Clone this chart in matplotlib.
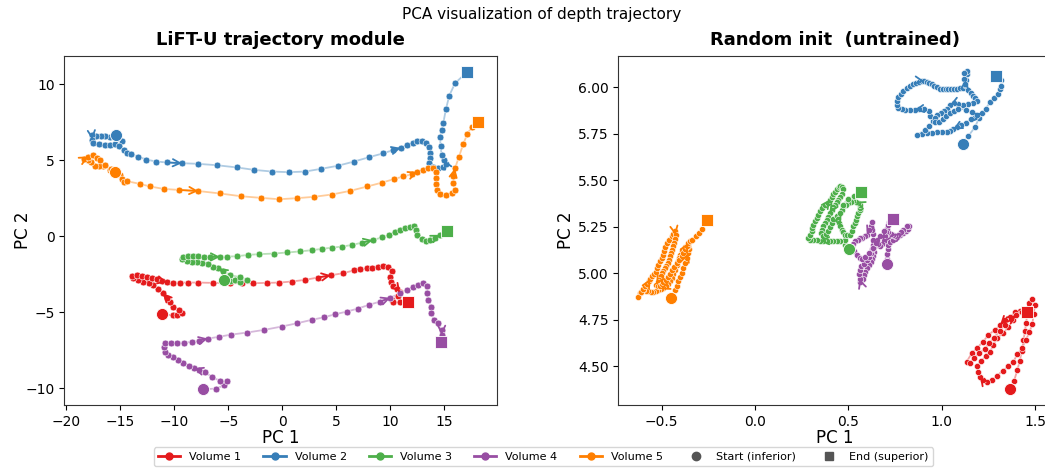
import matplotlib
matplotlib.use("Agg")
import matplotlib.pyplot as plt
import matplotlib.ticker as mticker
from matplotlib.lines import Line2D
import numpy as np

# ---------------- data: LiFT-U trajectory module (left panel) ----------------
lift_v1_x = [-11.17, -10.15, -9.72, -9.32, -9.54, -10.1, -10.4, -10.7, -11.08, -11.5, -11.94, -12.4, -12.87,
             -13.33, -13.8, -13.95, -13.5, -13.0, -12.56, -12.1, -11.64, -11.17, -10.7, -10.1, -9.48, -8.7,
             -7.78, -6.39, -4.85, -3.77, -2.69, -1.45, -0.28, 0.86, 2.1, 3.27, 4.48, 5.65, 6.6, 7.2, 7.8,
             8.33, 8.83, 9.35, 9.81, 10.12, 9.97, 10.03, 10.28, 10.65, 10.9, 10.7, 10.12, 10.28, 10.9, 11.67]
lift_v1_y = [-5.13, -5.2, -5.2, -5.07, -4.85, -4.63, -4.34, -4.04, -3.75, -3.45, -3.2, -3.09, -2.98,
             -2.87, -2.72, -2.59, -2.54, -2.6, -2.65, -2.72, -2.8, -2.94, -3.03, -3.05, -3.05, -3.05,
             -3.05, -3.07, -3.09, -3.09, -3.09, -3.07, -3.05, -2.98, -2.87, -2.72, -2.57, -2.43, -2.25, -2.17, -2.1,
             -2.06, -2.0, -1.93, -2.0, -2.28, -2.65, -2.98, -3.27, -3.46, -3.7, -3.95, -4.19, -4.34, -4.34, -4.3]

lift_v2_x = [-15.4, -14.9, -15.3, -15.96, -16.4, -16.8, -17.25, -17.65, -17.6, -17.5, -16.94, -16.4, -15.96,
             -15.5, -15.1, -14.7, -14.4, -14.04, -13.4, -12.6, -11.7, -10.7, -9.3, -7.84, -6.1, -4.2, -2.6,
             -0.93, 0.59, 2.1, 3.58, 5.12, 6.64, 8.06, 9.29, 10.2, 10.96, 11.57, 12.07, 12.5, 12.9, 13.3,
             13.55, 13.67, 13.67, 13.6, 13.98, 14.4, 14.9, 15.15, 14.96, 14.75, 14.66, 14.6, 14.75, 14.9,
             15.15, 15.46, 16.0, 17.07]
lift_v2_y = [6.67, 6.25, 6.45, 6.51, 6.56, 6.6, 6.56, 6.67, 6.35, 6.12, 6.07, 6.0, 5.99,
             6.07, 5.9, 5.68, 5.5, 5.39, 5.24, 5.04, 4.91, 4.85, 4.8, 4.76, 4.67, 4.52, 4.36,
             4.25, 4.21, 4.25, 4.43, 4.63, 4.91, 5.2, 5.44, 5.65, 5.81, 5.99, 6.12, 6.23, 6.23, 6.12,
             5.86, 5.5, 5.13, 4.8, 4.54, 4.47, 4.58, 4.76, 5.02, 5.35, 5.9, 6.51, 7.0, 7.43,
             8.36, 9.25, 10.07, 10.77]

lift_v3_x = [-5.4, -4.85, -4.4, -3.9, -3.3, -3.95, -4.85, -5.46, -5.93, -6.4, -6.85, -7.4, -7.87, -8.4,
             -8.86, -9.3, -9.17, -8.7, -8.24, -7.78, -7.25, -6.7, -5.77, -5.1, -4.23, -3.2, -2.13, -0.77,
             0.46, 1.64, 2.72, 3.7, 4.63, 5.56, 6.48, 7.4, 8.36, 9.26, 9.9, 10.43, 10.9, 11.36, 11.8, 12.2,
             12.4, 12.5, 12.9, 13.3, 13.67, 14.1, 14.6, 15.28]
lift_v3_y = [-2.87, -2.95, -2.9, -2.98, -2.85, -2.7, -2.55, -2.32, -2.1, -2.0, -1.84, -1.73, -1.71, -1.67,
             -1.62, -1.5, -1.34, -1.32, -1.32, -1.32, -1.34, -1.36, -1.36, -1.34, -1.32, -1.23, -1.18, -1.14,
             -1.07, -1.0, -0.92, -0.83, -0.75, -0.68, -0.57, -0.42, -0.26, -0.07, 0.1, 0.26, 0.42, 0.53, 0.61, 0.64,
             0.42, 0.09, -0.18, -0.31, -0.24, -0.09, 0.09, 0.31]

lift_v4_x = [-7.38, -6.14, -5.4, -5.09, -5.77, -6.54, -7.16, -7.69, -8.18, -8.64, -9.17, -9.63, -10.1,
             -10.56, -10.86, -10.96, -10.86, -10.3, -9.72, -9.07, -8.4, -7.7, -6.9, -5.9, -4.75, -3.3, -1.7,
             -0.06, 1.39, 2.72, 3.86, 4.9, 5.96, 6.98, 8.0, 9.04, 10.0, 10.9, 11.5, 12.07, 12.6, 13.06,
             13.36, 13.36, 13.5, 13.8, 13.8, 14.04, 14.44, 14.75, 14.75, 14.7]
lift_v4_y = [-10.07, -10.02, -9.8, -9.52, -9.5, -9.28, -8.9, -8.8, -8.68, -8.51, -8.31, -8.14, -7.96,
             -7.81, -7.59, -7.26, -7.0, -7.0, -7.0, -7.0, -6.95, -6.86, -6.73, -6.62, -6.47, -6.34, -6.16,
             -5.94, -5.72, -5.5, -5.33, -5.13, -4.96, -4.76, -4.52, -4.3, -4.05, -3.75, -3.53, -3.36, -3.2, -3.09,
             -3.27, -3.75, -4.19, -4.63, -5.07, -5.5, -5.72, -6.16, -6.49, -6.93]

lift_v5_x = [-15.5, -16.0, -16.6, -16.94, -17.35, -17.7, -18.0, -18.4, -17.96, -17.5, -17.2, -16.9, -16.4,
             -15.9, -15.0, -14.9, -14.7, -14.4, -13.2, -12.25, -11.0, -9.53, -7.78, -5.77, -3.86, -1.98,
             -0.31, 1.33, 2.93, 4.57, 6.27, 7.87, 9.26, 10.3, 11.2, 11.98, 12.5, 13.06, 13.5, 13.92, 14.2,
             14.23, 14.23, 14.3, 14.6, 15.15, 15.68, 15.99, 15.83, 15.83, 15.99, 16.36, 16.76, 17.13, 17.53, 18.09]
lift_v5_y = [4.2, 4.36, 4.63, 4.63, 4.63, 4.85, 5.0, 5.07, 5.24, 5.35, 5.13, 4.98, 4.7,
             4.45, 4.0, 3.75, 3.55, 3.62, 3.44, 3.27, 3.11, 3.04, 2.97, 2.81, 2.63, 2.52,
             2.43, 2.5, 2.59, 2.74, 2.98, 3.27, 3.53, 3.75, 3.93, 4.08, 4.23, 4.36, 4.47, 4.47, 4.19,
             3.82, 3.44, 3.05, 2.76, 2.74, 2.83, 3.05, 3.49, 3.93, 4.47, 5.24, 6.07, 6.73, 7.17, 7.54]

# ---------------- data: Random init (untrained) (right panel) ----------------
rand_v1_x = [1.366, 1.388, 1.405, 1.418, 1.43, 1.438, 1.446, 1.452, 1.46, 1.468, 1.485, 1.5, 1.492, 1.486,
             1.47, 1.45, 1.43, 1.405, 1.384, 1.357, 1.327, 1.295, 1.268, 1.241, 1.22, 1.205, 1.196, 1.19,
             1.21, 1.235, 1.26, 1.277, 1.295, 1.33, 1.357, 1.384, 1.402, 1.42, 1.393, 1.366, 1.339, 1.3125,
             1.286, 1.25, 1.223, 1.1875, 1.161, 1.134, 1.15, 1.175, 1.2, 1.23, 1.255, 1.28, 1.31, 1.34,
             1.37, 1.40, 1.43, 1.459]
rand_v1_y = [4.377, 4.424, 4.48, 4.53, 4.585, 4.64, 4.69, 4.735, 4.79, 4.84, 4.86, 4.83, 4.78, 4.73,
             4.685, 4.64, 4.6, 4.565, 4.526, 4.5, 4.478, 4.449, 4.427, 4.418, 4.425, 4.445, 4.472, 4.505,
             4.53, 4.555, 4.58, 4.616, 4.652, 4.679, 4.714, 4.75, 4.787, 4.8, 4.79, 4.768, 4.75, 4.723,
             4.697, 4.67, 4.634, 4.598, 4.571, 4.526, 4.52, 4.545, 4.57, 4.595, 4.625, 4.655, 4.69, 4.725,
             4.755, 4.775, 4.79, 4.792]

rand_v2_x = [1.112, 1.143, 1.179, 1.2, 1.18, 1.155, 1.128, 1.103, 1.082, 1.062, 1.045, 1.027, 1.0, 0.973,
             0.946, 0.92, 0.893, 0.87, 0.91, 0.93, 0.955, 0.94, 0.93, 0.905, 0.88, 0.855, 0.83, 0.805,
             0.786, 0.768, 0.759, 0.759, 0.768, 0.78, 0.795, 0.812, 0.83, 0.846, 0.862, 0.878, 0.893,
             0.907, 0.92, 0.933, 0.946, 0.96, 0.973, 0.99, 1.009, 1.023, 1.036, 1.051, 1.066, 1.082,
             1.098, 1.112, 1.125, 1.128, 1.137, 1.135, 1.12, 1.118, 1.125, 1.14, 1.155, 1.17, 1.18, 1.188,
             1.17, 1.14, 1.115, 1.09, 1.066, 1.045, 1.03, 1.015, 0.995, 0.975, 0.962, 0.965, 0.985, 1.005,
             1.025, 1.045, 1.065, 1.09, 1.13, 1.16, 1.19, 1.215, 1.235, 1.26, 1.28, 1.3, 1.312, 1.318,
             1.316, 1.292]
rand_v2_y = [5.697, 5.738, 5.787, 5.835, 5.84, 5.828, 5.81, 5.796, 5.785, 5.774, 5.765, 5.761, 5.761, 5.76,
             5.757, 5.753, 5.747, 5.745, 5.77, 5.79, 5.82, 5.846, 5.87, 5.882, 5.882, 5.878, 5.876, 5.878,
             5.882, 5.89, 5.905, 5.927, 5.948, 5.965, 5.98, 5.995, 6.008, 6.018, 6.025, 6.03, 6.034,
             6.032, 6.03, 6.024, 6.016, 6.008, 5.999, 5.993, 5.99, 5.99, 5.99, 5.99, 5.99, 5.992,
             5.995, 5.998, 6.01, 6.04, 6.07, 6.085, 6.075, 6.045, 6.02, 5.985, 5.97, 5.954, 5.94, 5.927,
             5.915, 5.91, 5.905, 5.91, 5.915, 5.905, 5.885, 5.87, 5.86, 5.85, 5.835, 5.815, 5.815, 5.83,
             5.845, 5.86, 5.875, 5.885, 5.88, 5.865, 5.85, 5.86, 5.885, 5.92, 5.945, 5.965, 5.99, 6.008,
             6.04, 6.06]

rand_v3_x = [0.505, 0.482, 0.482, 0.455, 0.437, 0.42, 0.402, 0.384, 0.366, 0.348, 0.33, 0.312, 0.295,
             0.286, 0.295, 0.304, 0.308, 0.313, 0.322, 0.33, 0.34, 0.348, 0.36, 0.375, 0.39, 0.402, 0.412,
             0.42, 0.43, 0.438, 0.448, 0.455, 0.465, 0.469, 0.464, 0.455, 0.446, 0.438, 0.429, 0.42, 0.411,
             0.4, 0.39, 0.384, 0.375, 0.366, 0.36, 0.355, 0.365, 0.38, 0.39, 0.4, 0.41, 0.42, 0.437, 0.445,
             0.451, 0.458, 0.464, 0.472, 0.482, 0.495, 0.509, 0.518, 0.527, 0.534, 0.541, 0.548, 0.554,
             0.56, 0.563, 0.562, 0.554, 0.54, 0.527, 0.513, 0.5, 0.486, 0.473, 0.465, 0.455, 0.47, 0.5,
             0.53, 0.55, 0.566]
rand_v3_y = [5.131, 5.155, 5.181, 5.172, 5.176, 5.176, 5.176, 5.176, 5.176, 5.176, 5.178, 5.18, 5.181,
             5.19, 5.208, 5.226, 5.245, 5.262, 5.28, 5.298, 5.316, 5.334, 5.35, 5.365, 5.38, 5.397, 5.41,
             5.424, 5.438, 5.451, 5.463, 5.469, 5.462, 5.451, 5.424, 5.41, 5.397, 5.383, 5.37, 5.356, 5.343,
             5.325, 5.305, 5.289, 5.27, 5.253, 5.235, 5.215, 5.2, 5.21, 5.23, 5.25, 5.27, 5.29, 5.307, 5.29,
             5.271, 5.253, 5.235, 5.22, 5.208, 5.205, 5.208, 5.23, 5.253, 5.27, 5.289, 5.307, 5.325,
             5.34, 5.352, 5.368, 5.379, 5.385, 5.388, 5.385, 5.379, 5.37, 5.361, 5.343, 5.325, 5.37, 5.4,
             5.415, 5.43, 5.438]

rand_v4_x = [0.705, 0.705, 0.707, 0.71, 0.712, 0.725, 0.741, 0.759, 0.775, 0.792, 0.807, 0.82, 0.825,
             0.812, 0.795, 0.78, 0.768, 0.752, 0.741, 0.727, 0.714, 0.705, 0.7, 0.696, 0.69, 0.68, 0.67,
             0.66, 0.652, 0.645, 0.64, 0.636, 0.634, 0.628, 0.62, 0.61, 0.6, 0.59, 0.585, 0.578, 0.565,
             0.56, 0.558, 0.56, 0.57, 0.585, 0.6, 0.61, 0.62, 0.625, 0.63, 0.634, 0.63, 0.625, 0.624, 0.625,
             0.612, 0.6, 0.589, 0.575, 0.563, 0.55, 0.536, 0.525, 0.518, 0.53, 0.545, 0.56, 0.575, 0.59,
             0.61, 0.63, 0.65, 0.67, 0.69, 0.71, 0.72, 0.737]
rand_v4_y = [5.052, 5.08, 5.105, 5.13, 5.155, 5.17, 5.18, 5.195, 5.205, 5.215, 5.228, 5.24, 5.255,
             5.255, 5.235, 5.222, 5.205, 5.203, 5.208, 5.213, 5.225, 5.24, 5.225, 5.2, 5.175, 5.16, 5.145,
             5.16, 5.18, 5.16, 5.14, 5.115, 5.095, 5.075, 5.06, 5.045, 5.03, 5.01, 4.99, 4.97, 4.955,
             4.97, 4.995, 5.02, 5.038, 5.05, 5.07, 5.09, 5.11, 5.13, 5.155, 5.181, 5.21, 5.235, 5.255, 5.275,
             5.235, 5.205, 5.199, 5.19, 5.19, 5.18, 5.172, 5.16, 5.14, 5.12, 5.1, 5.085, 5.08, 5.09,
             5.11, 5.135, 5.165, 5.2, 5.23, 5.26, 5.275, 5.293]

rand_v5_x = [-0.45, -0.429, -0.42, -0.411, -0.402, -0.393, -0.386, -0.375, -0.366, -0.357, -0.355, -0.361,
             -0.375, -0.39, -0.402, -0.407, -0.411, -0.42, -0.43, -0.438, -0.446, -0.455, -0.464, -0.478,
             -0.491, -0.505, -0.518, -0.532, -0.545, -0.558, -0.571, -0.585, -0.598, -0.608, -0.616, -0.625,
             -0.61, -0.598, -0.589, -0.578, -0.568, -0.561, -0.554, -0.543, -0.532, -0.525, -0.518, -0.509,
             -0.5, -0.493, -0.486, -0.48, -0.473, -0.46, -0.446, -0.437, -0.429, -0.425, -0.428, -0.432,
             -0.438, -0.444, -0.45, -0.456, -0.462, -0.468, -0.476, -0.484, -0.49, -0.497, -0.505, -0.514,
             -0.522, -0.53, -0.52, -0.51, -0.5, -0.49, -0.478, -0.466, -0.455, -0.443, -0.432, -0.42,
             -0.407, -0.393, -0.384, -0.375, -0.366, -0.357, -0.348, -0.339, -0.318, -0.3, -0.282, -0.259]
rand_v5_y = [4.867, 4.912, 4.935, 4.957, 4.98, 5.002, 5.03, 5.056, 5.083, 5.11, 5.13, 5.149,
             5.14, 5.12, 5.1, 5.083, 5.065, 5.045, 5.02, 4.998, 4.975, 4.958, 4.944, 4.932,
             4.921, 4.915, 4.912, 4.905, 4.898, 4.9, 4.903, 4.908, 4.912, 4.902, 4.894, 4.872,
             4.9, 4.918, 4.934, 4.945, 4.957, 4.97, 4.984, 4.997, 5.01, 5.028, 5.047, 5.065,
             5.083, 5.1, 5.119, 5.14, 5.163, 5.182, 5.2, 5.213, 5.226, 5.205, 5.185, 5.163,
             5.145, 5.128, 5.11, 5.092, 5.074, 5.056, 5.042, 5.029, 5.015, 5.002, 4.984, 4.966,
             4.952, 4.939, 4.93, 4.935, 4.943, 4.953, 4.966, 4.981, 4.998, 5.016, 5.034, 5.054,
             5.074, 5.092, 5.11, 5.131, 5.147, 5.163, 5.172, 5.181, 5.2, 5.217, 5.239, 5.286]

volume_labels = ["Volume 1", "Volume 2", "Volume 3", "Volume 4", "Volume 5"]
volume_colors = ["#e41a1c", "#377eb8", "#4daf4a", "#984ea3", "#ff7f00"]
start_label = "Start (inferior)"
end_label = "End (superior)"
left_title = "LiFT-U trajectory module"
right_title = "Random init  (untrained)"
suptitle = "PCA visualization of depth trajectory"

left_series = [(lift_v1_x, lift_v1_y), (lift_v2_x, lift_v2_y), (lift_v3_x, lift_v3_y),
               (lift_v4_x, lift_v4_y), (lift_v5_x, lift_v5_y)]
right_series = [(rand_v1_x, rand_v1_y), (rand_v2_x, rand_v2_y), (rand_v3_x, rand_v3_y),
                (rand_v4_x, rand_v4_y), (rand_v5_x, rand_v5_y)]

W, H = 1045, 468
fig = plt.figure(figsize=(W / 100, H / 100), dpi=100)
axL = fig.add_axes([64.3 / W, 1 - 405 / H, (496.7 - 64.3) / W, (405 - 56) / H])
axR = fig.add_axes([618.3 / W, 1 - 405 / H, (1052 - 618.3) / W, (405 - 56) / H])


def draw(ax, series, step, s_pt):
    for (xs, ys), c in zip(series, volume_colors):
        xs = np.asarray(xs)
        ys = np.asarray(ys)
        ax.plot(xs, ys, color=c, lw=1.3, alpha=0.4, zorder=1)
        ax.scatter(xs[1:-1], ys[1:-1], s=s_pt, color=c, edgecolor="white", linewidth=0.4, zorder=3)
        for i in range(step // 2, len(xs) - 1, step):
            ax.annotate("", xy=(xs[i + 1], ys[i + 1]), xytext=(xs[i], ys[i]),
                        arrowprops=dict(arrowstyle="->", color=c, lw=1.3, shrinkA=0, shrinkB=0,
                                        mutation_scale=13), zorder=4)
        ax.scatter(xs[0], ys[0], s=75, marker="o", color=c, edgecolor="white", linewidth=0.6, zorder=5)
        ax.scatter(xs[-1], ys[-1], s=65, marker="s", color=c, edgecolor="white", linewidth=0.6, zorder=5)


draw(axL, left_series, 14, 24)
draw(axR, right_series, 16, 20)

axL.set_xlim(-20.2, 19.85)
axL.set_ylim(-11.1, 11.85)
axL.set_xticks([-20, -15, -10, -5, 0, 5, 10, 15])
axL.set_yticks([-10, -5, 0, 5, 10])
axR.set_xlim(-0.732, (1052 - 755) / 186.7)
axR.set_ylim(4.293, 6.168)
axR.set_xticks([-0.5, 0.0, 0.5, 1.0, 1.5])
axR.set_yticks([4.5, 4.75, 5.0, 5.25, 5.5, 5.75, 6.0])
axR.yaxis.set_major_formatter(mticker.FormatStrFormatter("%.2f"))

for ax, t in [(axL, left_title), (axR, right_title)]:
    ax.set_title(t, fontsize=13, fontweight="bold", pad=8)
    ax.set_xlabel("PC 1", fontsize=12)
    ax.set_ylabel("PC 2", fontsize=12)
    ax.tick_params(labelsize=10)
    ax.xaxis.set_label_coords(0.5, -0.069)
    for s in ax.spines.values():
        s.set_color("#333333")
axL.yaxis.set_label_coords((32 - 64.3) / 432.4, 0.5)
axR.yaxis.set_label_coords((575 - 618.3) / 433.7, 0.5)

fig.suptitle(suptitle, fontsize=11, x=0.518, y=0.985)

handles = [Line2D([0], [0], color=c, lw=2, marker="o", markersize=5) for c in volume_colors]
handles += [Line2D([0], [0], color="#555555", lw=0, marker="o", markersize=6),
            Line2D([0], [0], color="#555555", lw=0, marker="s", markersize=6)]
labels = volume_labels + [start_label, end_label]
fig.legend(handles, labels, loc="lower center", bbox_to_anchor=(0.52, -0.008), ncol=7, fontsize=8,
           frameon=True, handlelength=2.0, columnspacing=2.0)

fig.savefig("out.png", dpi=100)
